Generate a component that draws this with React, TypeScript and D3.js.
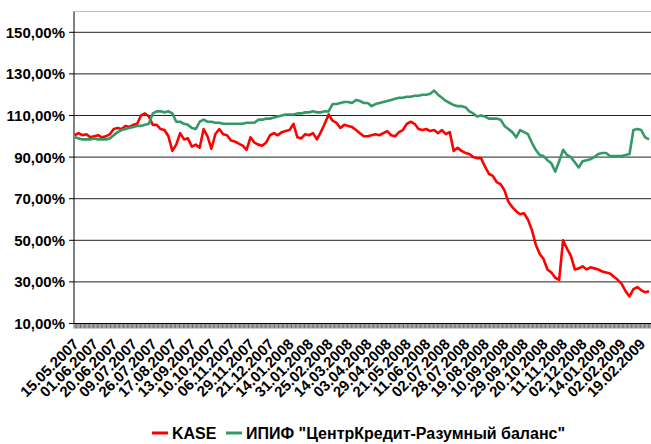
import React from 'react';
import * as d3 from 'd3';

const dateLabels = ["15.05.2007","01.06.2007","20.06.2007","09.07.2007","26.07.2007","17.08.2007","13.09.2007","10.10.2007","06.11.2007","29.11.2007","21.12.2007","14.01.2008","31.01.2008","25.02.2008","14.03.2008","03.04.2008","29.04.2008","21.05.2008","11.06.2008","02.07.2008","28.07.2008","19.08.2008","10.09.2008","29.09.2008","20.10.2008","11.11.2008","02.12.2008","14.01.2009","02.02.2009","19.02.2009"];

const yTicks = [10, 30, 50, 70, 90, 110, 130, 150];

// KASE index, % of start, sampled every 3rd trading day
const kase = [
  100.5, 101.5, 100.5, 101, 99.5, 100, 100.5, 99.5, 100, 101,
  103.5, 104, 103.5, 105, 104.5, 105.5, 106, 110, 111, 109.5,
  105.5, 105.5, 103.5, 103, 100, 93, 96, 101.5, 98.5, 99,
  95, 96, 94.5, 103.5, 100, 94, 101, 103.5, 101, 100.5,
  98, 97.5, 96.5, 95.5, 93.5, 99.5, 97, 96, 95.5, 97,
  100.5, 101.5, 100.5, 102, 102.5, 103, 106, 99.5, 99, 101,
  100.5, 101.5, 98.5, 102, 106, 110.5, 107.5, 106.5, 104, 105.5,
  105, 104.5, 103, 101.5, 100, 100, 100.5, 101, 100.5, 101.5,
  102.5, 100.5, 100, 102, 103, 106, 107, 106, 103.5, 103,
  103.5, 102.5, 103, 101.5, 103, 101, 102, 93, 94.5, 93,
  92, 91.5, 90, 89.5, 89.5, 85.5, 82, 81, 78, 77,
  74, 68.5, 66, 64, 62.5, 63, 60, 55, 48, 43.5,
  41, 36, 34.5, 32, 31, 50, 46, 42.5, 36, 36.5,
  37.5, 36, 37, 36.5, 36, 35, 34.5, 34, 32.5, 31,
  29, 25.5, 23, 26.5, 27.5, 26, 25, 25.5
];

// ИПИФ "ЦентрКредит-Разумный баланс", % of start
const ipif = [
  99.5, 99, 98.5, 98.5, 98.5, 99, 98.5, 98.5, 98.5, 99,
  100.5, 102, 103, 103.5, 104, 104.5, 105, 105, 105.5, 106,
  111, 112, 112, 111.5, 112, 111, 107, 107, 106, 105.5,
  104, 103.5, 107, 108, 107, 107, 106.5, 106.5, 106, 106,
  106, 106, 106, 106, 106.5, 106.5, 106.5, 108, 108, 108.5,
  108.5, 109, 109.5, 110, 110.5, 110.5, 110.5, 111, 111, 111.5,
  111.5, 112, 111.5, 111.5, 112, 112, 115.5, 115.5, 116, 116.5,
  116.5, 116, 117.5, 117, 116, 116, 114.5, 115.5, 116, 116.5,
  117, 117.5, 118, 118.5, 118.5, 119, 119, 119.5, 119.5, 120,
  120, 120.5, 122, 120, 118.5, 117, 116, 115, 114.5, 114.5,
  114, 112, 111, 109.5, 110, 109.5, 108.5, 108.5, 108.5, 108,
  105, 103.5, 102, 99.5, 103, 102, 101, 97, 93.5, 91,
  90.5, 88.5, 87, 83, 88, 93.5, 91, 90, 87.5, 85,
  88, 88.5, 89, 90, 91.5, 92, 92, 90.5, 90.5, 90.5,
  90.5, 91, 91.5, 103, 103.5, 103, 99.5, 98.5
];

const CATEGORY_COUNT = 443;
const LABEL_EVERY = 15;
const SAMPLE_EVERY = 3;

const FONT = '"Liberation Sans", Arial, sans-serif';

export default function App() {
  const W = 651, H = 444;
  const left = 74, right = 651, top = 11.5, bottom = 323.5;
  const x = d3.scaleLinear().domain([0, CATEGORY_COUNT]).range([left, right]);
  const y = d3.scaleLinear().domain([10, 160]).range([bottom, top]);
  const line = d3.line<number>()
    .x((_, j) => x(j * SAMPLE_EVERY + 0.5))
    .y(d => y(d));
  const fmt = (v: number) => v.toFixed(2).replace('.', ',') + '%';
  const catTicks = d3.range(0, CATEGORY_COUNT + 1);

  return (
    <svg width={W} height={H} style={{ position: 'absolute', left: 0, top: 0, background: '#fff' }}
      fontFamily={FONT}>
      <rect x={0} y={0} width={W} height={H} fill="#fff" />
      <line x1={left} x2={right} y1={top} y2={top} stroke="#c0c0c0" strokeWidth={1} />
      {yTicks.filter(t => t > 10).map(t => (
        <line key={t} x1={left} x2={right} y1={y(t)} y2={y(t)} stroke="#222" strokeWidth={1} />
      ))}
      {yTicks.map(t => (
        <g key={'yt' + t}>
          <line x1={left - 5} x2={left} y1={y(t)} y2={y(t)} stroke="#000" strokeWidth={1} />
          <text x={65} y={y(t)} dy="0.36em" textAnchor="end" fontSize={15} fontWeight="bold" fill="#000">{fmt(t)}</text>
        </g>
      ))}
      {catTicks.map(i => (
        <line key={'c' + i} x1={x(i)} x2={x(i)} y1={bottom} y2={bottom + 5} stroke="#333" strokeWidth={0.7} />
      ))}
      <line x1={left} x2={right} y1={bottom} y2={bottom} stroke="#000" strokeWidth={1} />
      <line x1={left} x2={left} y1={top} y2={bottom} stroke="#000" strokeWidth={1} />
      {dateLabels.map((lab, k) => {
        const cx = x(k * LABEL_EVERY + 0.5) + 5;
        const cy = 345;
        return (
          <text key={lab} x={cx} y={cy} textAnchor="end" fontSize={15} fontWeight="bold" fill="#000"
            transform={`rotate(-45 ${cx} ${cy})`}>{lab}</text>
        );
      })}
      <path d={line(kase) || ''} fill="none" stroke="#ff0000" strokeWidth={2.6} strokeLinejoin="round" />
      <path d={line(ipif) || ''} fill="none" stroke="#339966" strokeWidth={2.6} strokeLinejoin="round" />
      <line x1={152} x2={168} y1={433} y2={433} stroke="#ff0000" strokeWidth={3} />
      <text x={172} y={439} fontSize={16} fontWeight="bold" fill="#000">KASE</text>
      <line x1={226} x2={242} y1={433} y2={433} stroke="#339966" strokeWidth={3} />
      <text x={246} y={439} fontSize={16} fontWeight="bold" fill="#000">ИПИФ "ЦентрКредит-Разумный баланс"</text>
    </svg>
  );
}
